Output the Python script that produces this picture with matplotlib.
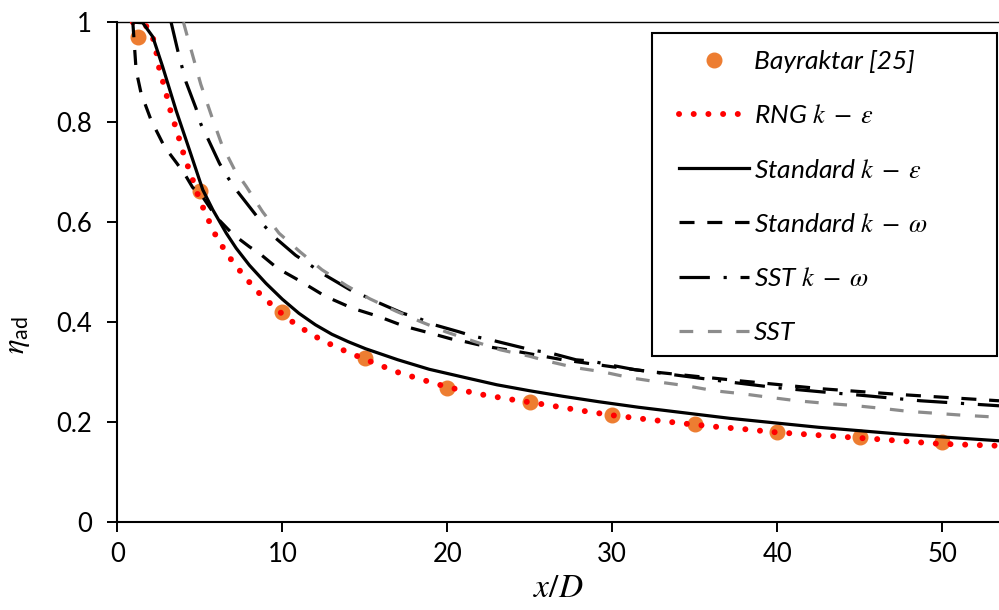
import matplotlib
matplotlib.use("Agg")
import matplotlib.pyplot as plt
from matplotlib.patches import Rectangle

# Measured effectiveness (Bayraktar [25])
exp_x = [1.27, 5, 10, 15, 20, 25, 30, 35, 40, 45, 50]
exp_eta = [0.970, 0.662, 0.421, 0.329, 0.269, 0.240, 0.215, 0.196, 0.180, 0.170, 0.160]

# RNG k-epsilon
rng_x = [0.93, 1.4, 1.84, 2.24, 2.55, 2.85, 3.25, 3.55, 4.06, 4.67, 4.97, 5.33, 5.7, 6.07,
         7.0, 8.3, 8.9, 9.6, 10.25, 11.0, 11.8, 12.6, 13.35, 15.0, 17.0, 19.3, 20.2, 22.0,
         23.8, 26.0, 28.0, 30.0, 31.8, 34.5, 36.3, 38.1, 39.9, 42.6, 46.2, 49.8, 53.45]
rng_eta = [1.0, 1.0, 0.99, 0.961, 0.904, 0.871, 0.818, 0.788, 0.731, 0.675, 0.645, 0.619, 0.591, 0.566,
           0.52, 0.468, 0.448, 0.428, 0.409, 0.392, 0.375, 0.361, 0.349, 0.326, 0.300, 0.277, 0.269, 0.256,
           0.246, 0.235, 0.224, 0.214, 0.207, 0.197, 0.191, 0.186, 0.180, 0.174, 0.166, 0.157, 0.153]

# Standard k-epsilon
ske_x = [1.03, 1.53, 2.14, 2.74, 3.55, 4.36, 5.17, 5.78, 6.6, 7.2, 8.0, 9.0, 10.0, 11.0, 12.0,
         13.0, 14.0, 15.05, 17.0, 18.9, 21.0, 23.0, 25.0, 27.0, 29.2, 31.6, 37.1, 42.5, 47.6, 53.45]
ske_eta = [1.0, 0.999, 0.971, 0.911, 0.824, 0.745, 0.665, 0.625, 0.578, 0.548, 0.514, 0.478, 0.446, 0.418, 0.395,
           0.376, 0.361, 0.347, 0.325, 0.306, 0.290, 0.275, 0.263, 0.252, 0.241, 0.230, 0.208, 0.190, 0.176, 0.163]

# Standard k-omega
skw_x = [0.93, 1.13, 1.43, 2.04, 2.85, 3.6, 4.1, 4.55, 5.2, 6.0, 7.0, 8.0, 8.6, 9.7, 11.1, 12.6,
         14.25, 15.8, 17.4, 19.0, 20.2, 21.1, 22.3, 24.0, 27.0, 30.0, 32.4, 37.7, 42.7, 47.7, 53.45]
skw_eta = [1.0, 0.904, 0.858, 0.804, 0.751, 0.718, 0.695, 0.67, 0.649, 0.61, 0.576, 0.551, 0.538, 0.508, 0.482, 0.452,
           0.428, 0.412, 0.392, 0.378, 0.367, 0.361, 0.352, 0.343, 0.325, 0.311, 0.301, 0.283, 0.267, 0.255, 0.243]

# SST k-omega
sstkw_x = [3.25, 3.65, 3.91, 4.15, 4.76, 5.06, 5.47, 6.18, 6.68, 7.29, 8.9, 9.6, 10.8, 11.67, 12.4, 14.1,
           14.8, 15.7, 17.3, 18.2, 19.1, 20.7, 21.6, 22.6, 24.2, 25.2, 26.2, 27.8, 28.8, 29.8, 31.4, 32.1,
           37.0, 40.0, 43.3, 45.1, 48.7, 53.45]
sstkw_eta = [1.0, 0.944, 0.911, 0.881, 0.828, 0.796, 0.768, 0.718, 0.69, 0.661, 0.593, 0.568, 0.534, 0.515, 0.498, 0.465,
             0.455, 0.441, 0.418, 0.409, 0.396, 0.381, 0.372, 0.365, 0.352, 0.344, 0.339, 0.325, 0.322, 0.315, 0.305, 0.302,
             0.281, 0.269, 0.259, 0.254, 0.243, 0.233]

# SST
sst_x = [4.0, 4.2, 5.05, 5.72, 6.33, 7.1, 7.8, 8.8, 9.8, 11.1, 12.4, 13.9, 15.3, 16.9, 18.4, 19.9,
         21.6, 23.2, 25.0, 26.1, 27.8, 29.4, 31.1, 32.7, 34.5, 36.2, 37.9, 39.5, 41.2, 42.9, 44.5,
         46.3, 47.9, 49.6, 51.3, 53.45]
sst_eta = [1.0, 0.976, 0.876, 0.811, 0.755, 0.705, 0.672, 0.621, 0.578, 0.54, 0.505, 0.473, 0.447, 0.422, 0.401, 0.381,
           0.362, 0.345, 0.332, 0.322, 0.309, 0.301, 0.289, 0.281, 0.273, 0.263, 0.257, 0.25, 0.243, 0.238, 0.234,
           0.228, 0.222, 0.218, 0.214, 0.21]

xticks = [0, 10, 20, 30, 40, 50]
yticks = [0, 0.2, 0.4, 0.6, 0.8, 1.0]
ytick_labels = ["0", "0.2", "0.4", "0.6", "0.8", "1"]

plt.rcParams["font.family"] = ["Lato", "DejaVu Sans"]
# serif italic for the symbols, plain sans for the "ad" subscript
plt.rcParams["mathtext.fontset"] = "custom"
plt.rcParams["mathtext.rm"] = "STIXGeneral"
plt.rcParams["mathtext.it"] = "STIXGeneral:italic"
plt.rcParams["mathtext.bf"] = "STIXGeneral:bold"
plt.rcParams["mathtext.sf"] = "Lato"

fig = plt.figure(figsize=(9.99, 6.10), dpi=100)
ax = fig.add_axes([0.1176, 0.1438, 0.8824, 0.8197])

ax.plot(exp_x, exp_eta, linestyle="none", marker="o", markersize=10.5,
        color="#ED7D31", label="Bayraktar [25]", zorder=2)
ax.plot(rng_x, rng_eta, color="#FF0000", linewidth=4.3, linestyle=(0, (0.01, 2.45)),
        dash_capstyle="round", label=r"RNG $k\;-\;\varepsilon$", zorder=3)
ax.plot(ske_x, ske_eta, color="black", linewidth=2.3, label=r"Standard $k\;-\;\varepsilon$", zorder=3)
ax.plot(skw_x, skw_eta, color="black", linewidth=2.3, linestyle=(0, (4.7, 4.0)),
        label=r"Standard $k\;-\;\omega$", zorder=3)
ax.plot(sstkw_x, sstkw_eta, color="black", linewidth=2.3, linestyle=(0, (9.5, 4.3, 1.0, 4.3)),
        label=r"SST $k\;-\;\omega$", zorder=3)
ax.plot(sst_x, sst_eta, color="#8C8C8C", linewidth=2.3, linestyle=(0, (4.3, 4.6)),
        label="SST", zorder=3)

ax.set_xlim(0, 53.45)
ax.set_ylim(0, 1)
ax.set_xticks(xticks)
ax.set_yticks(yticks)
ax.set_yticklabels(ytick_labels)
ax.tick_params(direction="out", length=7.5, width=1.4, labelsize=18.5, color="black")
ax.tick_params(axis="x", pad=7)
ax.tick_params(axis="y", pad=11)

ax.spines["right"].set_visible(False)
ax.spines["left"].set_linewidth(1.5)
ax.spines["bottom"].set_linewidth(1.5)
ax.spines["top"].set_linewidth(1.0)

ax.set_xlabel(r"$x/D$", fontsize=24, labelpad=4)
ax.set_ylabel(r"$\eta_{\mathsf{ad}}$", fontsize=22)
ax.yaxis.set_label_coords(-0.097, 0.375)

# legend box drawn separately so the entries can sit to the left of it
ax.add_patch(Rectangle((0.6064, 0.3326), 0.3914, 0.646, transform=ax.transAxes,
                       fill=False, edgecolor="black", linewidth=1.5, zorder=5, clip_on=False))
leg = ax.legend(loc="upper left", bbox_to_anchor=(0.637, 0.944), frameon=False,
                prop={"style": "italic", "size": 19}, borderpad=0, borderaxespad=0,
                handlelength=2.65, handletextpad=0.2, labelspacing=1.18, numpoints=1)
leg.set_zorder(6)

fig.savefig("out.png", dpi=100)
